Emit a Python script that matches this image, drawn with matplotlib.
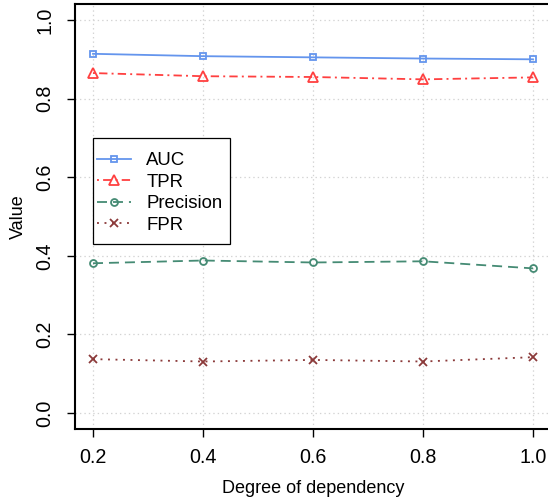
import matplotlib
matplotlib.use("Agg")
import matplotlib.pyplot as plt
from matplotlib.patches import Rectangle

plt.rcParams['font.family'] = ['Liberation Sans', 'DejaVu Sans']
plt.rcParams['lines.scale_dashes'] = False

dependency = [0.2, 0.4, 0.6, 0.8, 1.0]
auc = [0.914, 0.908, 0.905, 0.902, 0.900]
tpr = [0.865, 0.857, 0.855, 0.849, 0.854]
precision = [0.381, 0.388, 0.383, 0.386, 0.368]
fpr = [0.137, 0.131, 0.135, 0.131, 0.142]

x_ticks = [0.2, 0.4, 0.6, 0.8, 1.0]
y_ticks = [0.0, 0.2, 0.4, 0.6, 0.8, 1.0]

W, H = 548, 501
fig = plt.figure(figsize=(W / 100, H / 100), dpi=100)

# axes box in pixel coordinates (right edge runs just past the canvas)
left, right, top, bottom = 75.4, 550.6, 4.3, 428.7
ax = fig.add_axes([left / W, 1 - bottom / H, (right - left) / W, (bottom - top) / H])
ax.set_xlim(0.168, 1.032)
ax.set_ylim(-0.04, 1.04)

# dotted reference grid at the tick positions
for xv in x_ticks:
    ax.axvline(xv, color='#d3d3d3', lw=0.9, ls=(0, (1.0, 2.2)), zorder=0)
for yv in y_ticks:
    ax.axhline(yv, color='#d3d3d3', lw=0.9, ls=(0, (1.0, 2.2)), zorder=0)

lw = 1.3
mew = 1.3
ax.plot(dependency, auc, color='#6495ED', lw=lw, ls='-', marker='s', ms=5,
        mfc='none', mew=mew, label='AUC')
ax.plot(dependency, tpr, color='#FF4040', lw=lw, ls=(0, (1.4, 3.0, 6.0, 3.0)),
        marker='^', ms=6.5, mfc='none', mew=mew, label='TPR')
ax.plot(dependency, precision, color='#458B74', lw=lw, ls=(0, (7.2, 4.3)),
        marker='o', ms=5, mfc='none', mew=mew, label='Precision')
ax.plot(dependency, fpr, color='#8B3A3A', lw=lw, ls=(0, (1.4, 4.0)),
        marker='x', ms=5.5, mew=mew, label='FPR')

ax.set_xticks(x_ticks)
ax.set_xticklabels([f"{v:.1f}" for v in x_ticks])
ax.set_yticks(y_ticks)
ax.set_yticklabels([f"{v:.1f}" for v in y_ticks], rotation=90, va='center')
ax.tick_params(axis='both', direction='out', length=6, width=1.0,
               labelsize=14.2, color='black')
ax.tick_params(axis='x', pad=8)
ax.tick_params(axis='y', pad=9)

for s in ax.spines.values():
    s.set_linewidth(1.5)
    s.set_color('black')

ax.set_xlabel('Degree of dependency', fontsize=13, labelpad=9)
ax.set_ylabel('Value', fontsize=13, labelpad=6)

# legend box drawn as its own rectangle, entries placed inside it
ax.add_patch(Rectangle((93 / W, 1 - 244 / H), (230 - 93) / W, (244 - 138) / H,
                       transform=fig.transFigure, facecolor='white',
                       edgecolor='black', lw=0.9, zorder=3, clip_on=False))
leg = ax.legend(loc='upper left', bbox_to_anchor=(97 / W, 1 - 152 / H),
                bbox_transform=fig.transFigure, frameon=False, fontsize=13.4,
                borderaxespad=0, borderpad=0, handlelength=1.8,
                handletextpad=0.85, labelspacing=0.24, numpoints=1)
leg.set_zorder(5)

fig.savefig('out.png', dpi=100)
